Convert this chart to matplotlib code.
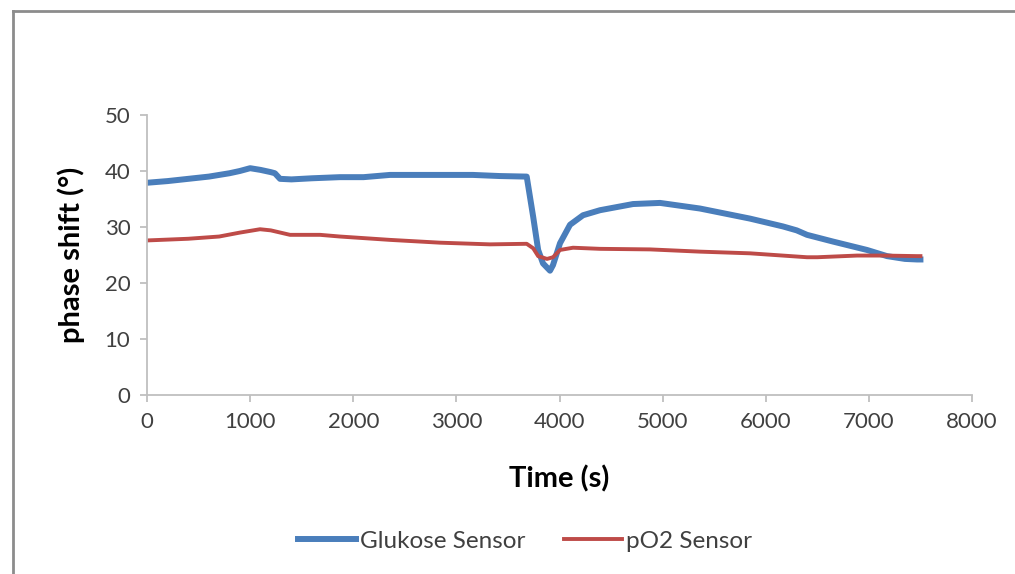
import matplotlib.pyplot as plt
from matplotlib.lines import Line2D

# time (s) and phase shift (deg)
glucose_t = [0, 200, 400, 600, 800, 900, 1000, 1100, 1200, 1240, 1290, 1400, 1600,
             1870, 2100, 2356, 2700, 3160, 3420, 3682, 3745, 3793, 3840, 3908,
             3937, 4005, 4102, 4228, 4393, 4713, 4975, 5362, 5847, 6167, 6300,
             6400, 6652, 6982, 7176, 7350, 7467, 7500]
glucose_phase = [37.9, 38.2, 38.6, 39.0, 39.6, 40.0, 40.5, 40.2, 39.8, 39.6, 38.6, 38.5, 38.7,
                 38.9, 38.9, 39.3, 39.3, 39.3, 39.1, 39.0, 31.8, 25.9, 23.5, 22.2,
                 23.2, 27.1, 30.4, 32.1, 33.0, 34.1, 34.3, 33.3, 31.5, 30.1, 29.4,
                 28.6, 27.4, 25.9, 24.8, 24.3, 24.2, 24.2]

po2_t = [0, 400, 700, 900, 1096, 1200, 1387, 1678, 1870, 2356, 2841, 3326, 3682,
         3745, 3793, 3879, 3937, 4005, 4131, 4393, 4878, 5362, 5847, 6400, 6500,
         6885, 7150, 7467, 7500]
po2_phase = [27.6, 27.9, 28.3, 29.0, 29.6, 29.4, 28.6, 28.6, 28.3, 27.7, 27.2, 26.9, 27.0,
             26.2, 24.8, 24.3, 24.6, 25.9, 26.3, 26.1, 26.0, 25.6, 25.3, 24.6, 24.6,
             24.9, 24.9, 24.8, 24.8]

xticks = [0, 1000, 2000, 3000, 4000, 5000, 6000, 7000, 8000]
yticks = [0, 10, 20, 30, 40, 50]

plt.rcParams['font.family'] = ['Lato', 'DejaVu Sans']

fig = plt.figure(figsize=(10.15, 5.74), dpi=100)
# outer chart frame, only the left and top edges are inside the picture
fx = 12.5 / 1015
fy = 1 - 10.5 / 574
fig.lines.append(Line2D([fx, fx], [-0.05, fy], transform=fig.transFigure,
                        color='#8c8c8c', linewidth=2))
fig.lines.append(Line2D([fx, 1.05], [fy, fy], transform=fig.transFigure,
                        color='#8c8c8c', linewidth=2))

ax = fig.add_axes([147 / 1015, (574 - 395) / 574, 825 / 1015, 280 / 574])
ax.plot(glucose_t, glucose_phase, color='#4a7ebb', linewidth=4.3, label='Glukose Sensor')
ax.plot(po2_t, po2_phase, color='#be4b48', linewidth=2.8, label='pO2 Sensor')

ax.set_xlim(0, 8000)
ax.set_ylim(0, 50)
ax.set_xticks(xticks)
ax.set_yticks(yticks)
for s in ['top', 'right']:
    ax.spines[s].set_visible(False)
for s in ['left', 'bottom']:
    ax.spines[s].set_color('#bfbfbf')
    ax.spines[s].set_linewidth(1.3)
ax.tick_params(axis='both', colors='#bfbfbf', length=5, width=1.3, labelsize=16,
               labelcolor='#404040', pad=7)

ax.set_xlabel('Time (s)', fontsize=21, fontweight='bold', labelpad=24)
ax.set_ylabel('phase shift (°)', fontsize=21, fontweight='bold', labelpad=14)

fig.legend(loc='center', bbox_to_anchor=(525 / 1015, 1 - 541 / 574), ncol=2,
           frameon=False, fontsize=17.5, handlelength=2.4, handletextpad=0.15,
           columnspacing=1.6, labelcolor='#404040')

fig.savefig('out.png', dpi=100)
